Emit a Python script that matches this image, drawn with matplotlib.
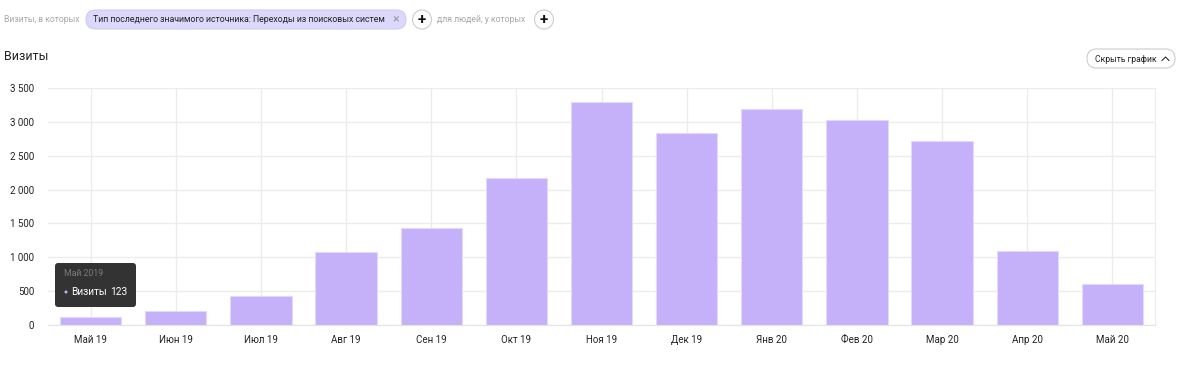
import matplotlib.pyplot as plt
from matplotlib.patches import FancyBboxPatch, Circle
from matplotlib.ticker import FuncFormatter

plt.rcParams['font.family'] = ['Roboto', 'DejaVu Sans']

months = ["Май 19", "Июн 19", "Июл 19", "Авг 19", "Сен 19", "Окт 19", "Ноя 19",
          "Дек 19", "Янв 20", "Фев 20", "Мар 20", "Апр 20", "Май 20"]
visits = [123, 206, 423, 1075, 1431, 2166, 3300, 2832, 3188, 3024, 2714, 1091, 600]
yticks = [0, 500, 1000, 1500, 2000, 2500, 3000, 3500]

W, H = 1181, 365
fig = plt.figure(figsize=(W / 100, H / 100), dpi=100)

# main chart
ax = fig.add_axes([48 / W, 1 - 325 / H, (1155 - 48) / W, (325 - 88) / H])
x = range(len(months))
ax.bar(x, visits, width=0.72, color="#c4b1f9", edgecolor="#e2d9fd", linewidth=0.8, zorder=2)
ax.set_xlim(-0.5, len(months) - 0.5)
ax.set_ylim(0, 3500)
ax.set_yticks(yticks)
ax.yaxis.set_major_formatter(FuncFormatter(lambda v, p: f"{int(v):,}".replace(",", " ")))
ax.set_xticks(list(x))
ax.set_xticklabels(months)
ax.grid(True, color="#ececec", linewidth=1, zorder=0)
for s in ["top", "left"]:
    ax.spines[s].set_visible(False)
ax.spines["right"].set_color("#ececec")
ax.spines["bottom"].set_color("#e4e4e4")
ax.tick_params(length=0, labelsize=7, colors="#222222", pad=7)
ax.tick_params(axis="y", pad=10)

# overlay in pixel coordinates for the interface elements
ui = fig.add_axes([0, 0, 1, 1], zorder=5)
ui.set_xlim(0, W)
ui.set_ylim(H, 0)
ui.axis("off")
ui.patch.set_alpha(0)


def rbox(x0, y0, w, h, r, fc, ec="none", z=1):
    ui.add_patch(FancyBboxPatch((x0, y0), w, h, boxstyle=f"round,pad=0,rounding_size={r}",
                                facecolor=fc, edgecolor=ec, linewidth=0.8, zorder=z))


# filter row
ui.text(4, 19, "Визиты, в которых", fontsize=6.2, color="#a8a8a8", va="center")
rbox(86, 10, 320, 19, 9.5, "#dcd8fb", "#cfcaf5")
ui.text(93, 19, "Тип последнего значимого источника: Переходы из поисковых систем",
        fontsize=6.3, color="#222222", va="center")
ui.text(396, 19, "×", fontsize=9, color="#9a9a9a", va="center", ha="center")
for cx in (422, 544):
    ui.add_patch(Circle((cx, 19.5), 9.5, facecolor="white", edgecolor="#cccccc", linewidth=0.8))
    ui.text(cx, 20, "+", fontsize=11, color="#111111", va="center", ha="center",
            fontweight="bold")
ui.text(437, 19, "для людей, у которых", fontsize=6.2, color="#a8a8a8", va="center")

# title and button
ui.text(4, 57, "Визиты", fontsize=9, color="#222222", va="center")
rbox(1087, 49, 88, 19, 9.5, "white", "#cccccc")
ui.text(1095, 59, "Скрыть график", fontsize=6.2, color="#222222", va="center")
ui.plot([1162, 1165.5, 1169], [60.5, 57, 60.5], color="#333333", linewidth=0.8)

# tooltip
rbox(55, 263, 81, 44, 3, "#333333", z=5)
ui.text(64, 274, "Май 2019", fontsize=6.3, color="#7a7a7a", va="center", zorder=6)
ui.add_patch(Circle((66, 292), 1.5, facecolor="#c4b1f9", edgecolor="none", zorder=6))
ui.text(71, 292, "Визиты", fontsize=7.3, color="white", va="center", zorder=6)
ui.text(110, 292, f"{visits[0]}", fontsize=7.3, color="white", va="center", zorder=6)

fig.savefig("out.png", dpi=100)
